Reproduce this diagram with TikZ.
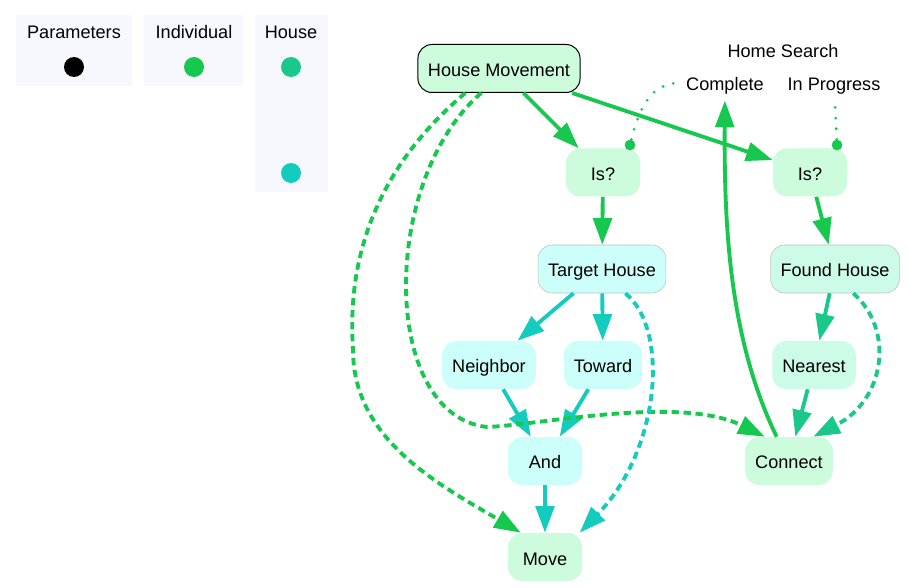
\documentclass[tikz,border=0pt]{standalone}
\usepackage{fontspec}
\setmainfont{Liberation Sans}
\usepackage{xcolor}
\usepackage{tikz}
\usetikzlibrary{calc,arrows.meta}
\usetikzlibrary{positioning}
\definecolor{indiv}{HTML}{17C84F}
\definecolor{housea}{HTML}{1AC98A}
\definecolor{houseb}{HTML}{14CCBE}
\definecolor{fillg}{HTML}{CCFCDC}
\definecolor{filla}{HTML}{CCFCE8}
\definecolor{fillb}{HTML}{CCFFFA}
\definecolor{legbg}{HTML}{F7F8FE}
\begin{document}
\begin{tikzpicture}[x=0.75pt,y=-0.75pt,font=\fontsize{13.6}{16}\selectfont,
	box/.style={rounded corners=10.5pt,minimum height=36pt,minimum width=55.5pt,inner xsep=7.5pt,text height=12pt,text depth=0pt},
	gbox/.style={box,fill=fillg},
	abox/.style={box,fill=filla},
	bbox/.style={box,fill=fillb},
	lbl/.style={inner xsep=6pt,inner ysep=7pt,text height=12pt,text depth=0pt},
	swatch/.style={circle,inner sep=0pt,minimum size=15pt},
	knob/.style={circle,fill=indiv,inner sep=0pt,minimum size=8pt},
	link/.style={line width=2.9pt,-{Triangle[length=20pt,width=14pt]}},
	soft/.style={dash pattern=on 5.5pt off 3.5pt},
	hint/.style={indiv,line width=2.3pt,line cap=round,dash pattern=on 0pt off 8pt}]
		\useasboundingbox (0,0) rectangle (908,588);
		\fill[legbg] (16,15) rectangle (132,86);
		\fill[legbg] (144,15) rectangle (243,86);
		\fill[legbg] (255,15) rectangle (328,192);
		\node[lbl] (lp) at (74,31) {Parameters};
		\node[lbl] (li) at (194,31) {Individual};
		\node[lbl] (lh) at (291,31) {House};
		\node[swatch,fill=black] (sp) at (74,67) {};
		\node[swatch,fill=indiv] (si) at (194,67) {};
		\node[swatch,fill=housea] (sa) at (291,67) {};
		\node[swatch,fill=houseb] (sb) at (291,173) {};
		
		\node[gbox,draw=black,line width=0.75pt] (hm) at (499,68.5) {House Movement};
		\node[gbox] (isa) at (603,172.5) {Is?};
		\node[gbox] (isb) at (810,172.5) {Is?};
		\node[bbox,draw=black!25] (tg) at (602,269) {Target House};
		\node[abox,draw=black!25] (fh) at (835,269) {Found House};
		\node[bbox] (nb) at (489,365) {Neighbor};
		\node[bbox] (tw) at (603,365) {Toward};
		\node[abox] (nr) at (814,365) {Nearest};
		\node[bbox] (nd) at (545,461) {And};
		\node[gbox] (cn) at (789,461) {Connect};
		\node[gbox] (mv) at (545,557) {Move};
		\node[lbl] (hs) at (783,50) {Home Search};
		\node[lbl] (cp) at (725,83) {Complete};
		\node[lbl] (ip) at (834,83) {In Progress};
		\node[knob] (ka) at (630,145) {};
		\node[knob] (kb) at (837,145) {};
		
		\draw[link,indiv] (hm) -- (isa);
		\draw[link,indiv] (hm) -- (isb);
		\draw[link,indiv] (isa) -- (tg);
		\draw[link,indiv] (isb) -- (fh);
		\draw[link,houseb] (tg) -- (nb);
		\draw[link,houseb] (tg) -- (tw);
		\draw[link,houseb] (nb) -- (nd);
		\draw[link,houseb] (tw) -- (nd);
		\draw[link,houseb] (nd) -- (mv);
		\draw[link,housea] (fh) -- (nr);
		\draw[link,housea] (nr) -- (cn);
		\draw[link,indiv] (cn.117) .. controls (730,340) and (724,230) .. (cp);
		\draw[link,soft,indiv] (hm.216) .. controls (350,190) and (350,300) .. (353,350) .. controls (353,440) and (440,485) .. (mv.135);
		\draw[link,soft,indiv] (hm.234) .. controls (380,180) and (380,415) .. (487,427) .. controls (540,425) and (680,395) .. (cn.135);
		\draw[link,soft,houseb] (tg.-46) .. controls (670,330) and (660,450) .. (mv.35);
		\draw[link,soft,housea] (fh.-53) .. controls (895,330) and (885,400) .. (cn.45);
		\draw[hint] (ka) .. controls (640,105) and (652,84) .. (cp.west);
		\draw[hint] (kb) -- (ip);
\end{tikzpicture}
\end{document}
